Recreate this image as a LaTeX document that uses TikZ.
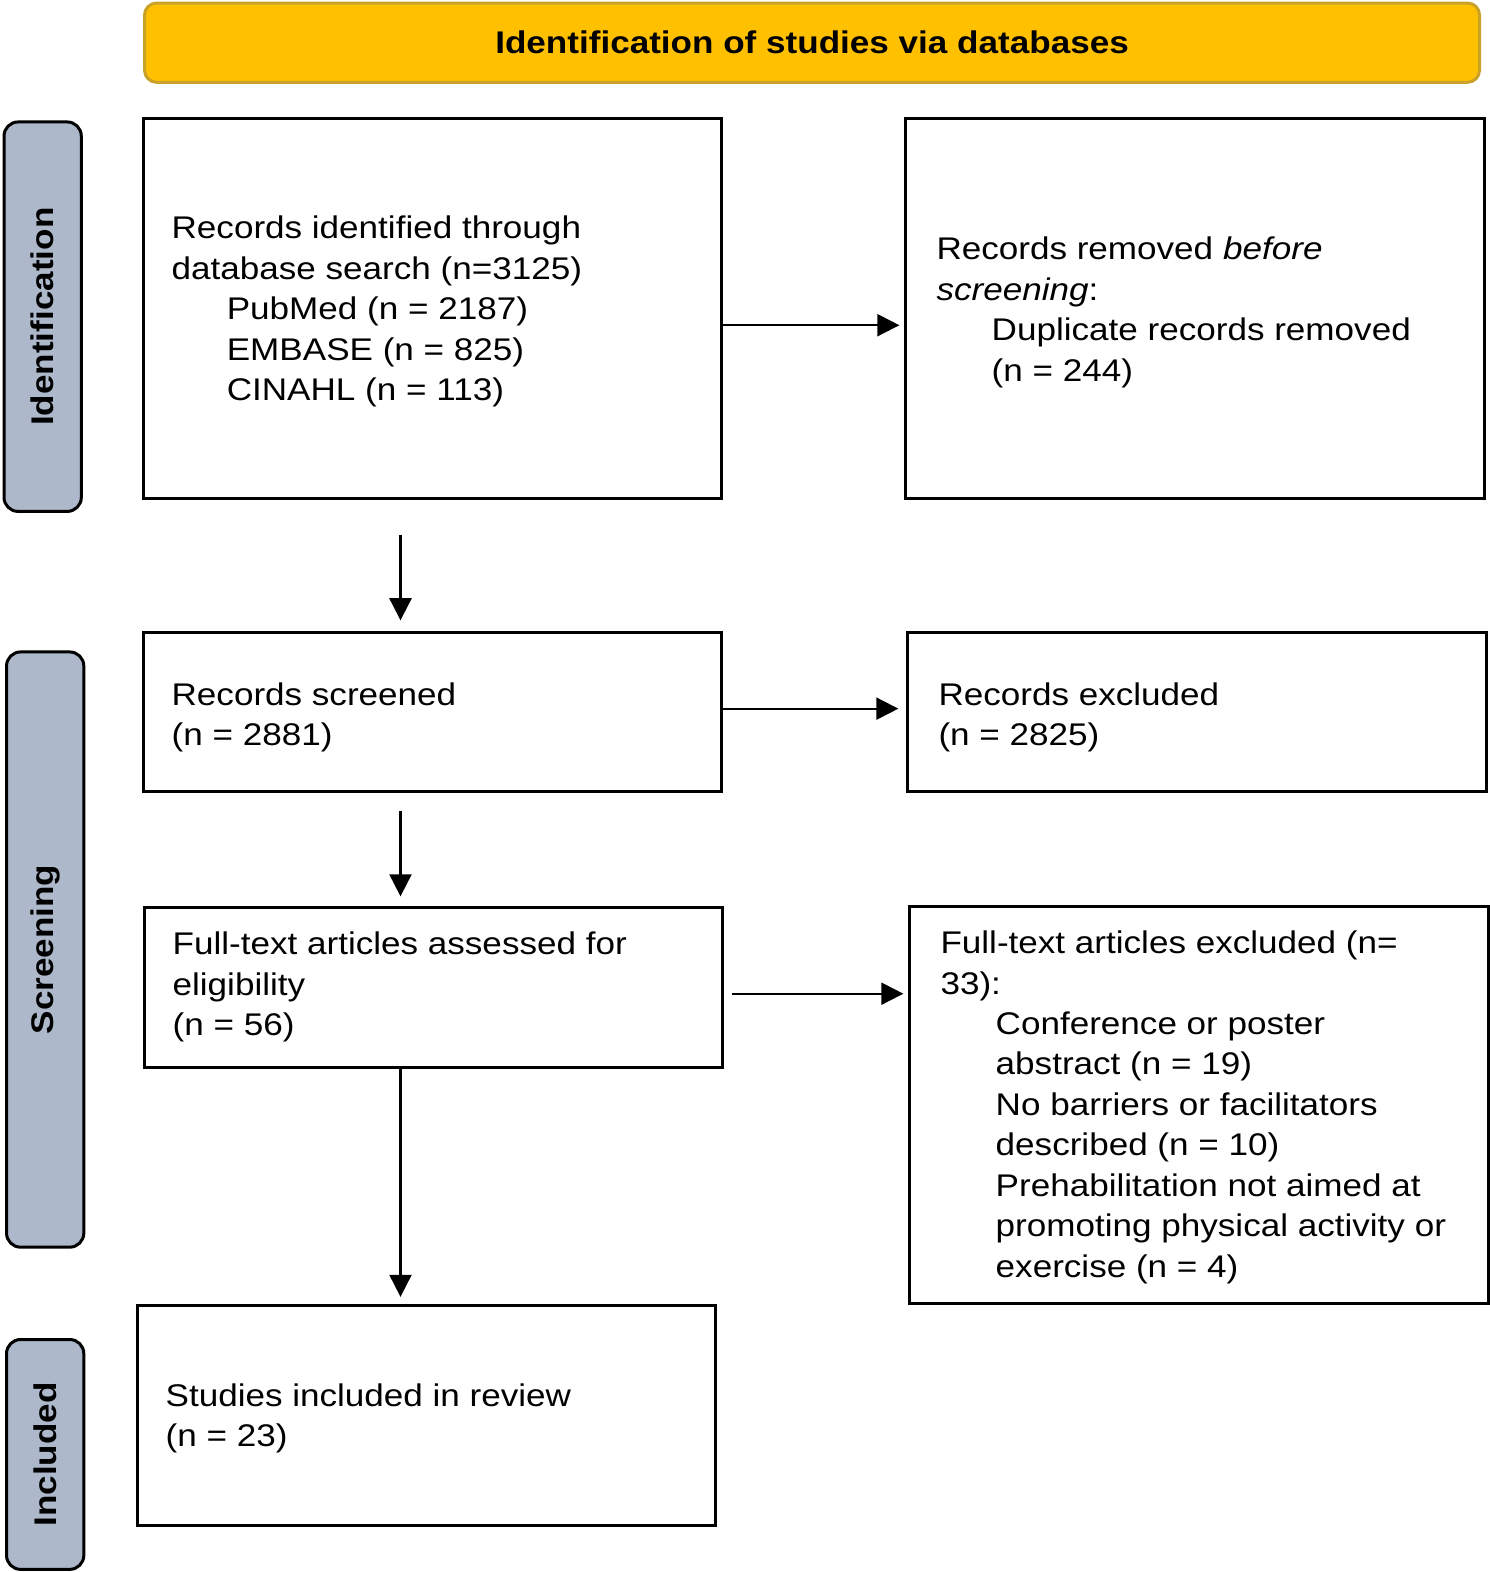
\documentclass[tikz,border=0pt]{standalone}
\usepackage{fontspec}
\setmainfont[FakeStretch=1.12]{Liberation Sans}
\usetikzlibrary{arrows.meta}
\definecolor{hdrfill}{HTML}{FFC000}
\definecolor{hdrline}{HTML}{C9A227}
\definecolor{sidefill}{HTML}{ADB9CA}
\begin{document}
\begin{tikzpicture}[x=1pt,y=-1pt,
  box/.style={draw=black, line width=3pt, inner sep=0pt, outer sep=0pt, minimum width=576pt},
  txt/.style={anchor=north west, inner sep=0pt, outer sep=0pt, align=left, font=\fontsize{31.2}{40.3}\selectfont},
  side/.style={draw=black, line width=3pt, fill=sidefill, rounded corners=14pt, inner sep=0pt, minimum width=77pt},
  sidelbl/.style={rotate=90, font=\fontsize{31.2}{40.3}\selectfont\bfseries, inner sep=0pt},
  arr/.style={line width=2pt, -{Triangle[length=22pt,width=22pt]}}]
\useasboundingbox (0,0) rectangle (1489,1572);
\begin{scope}[transform canvas={scale=1.00375}]
% header
\node[draw=hdrline, line width=3pt, fill=hdrfill, rounded corners=12pt, minimum width=1330pt, minimum height=79pt, inner sep=0pt] (hdr) at (809,42.5) {};
\node[font=\fontsize{31.2}{40.3}\selectfont\bfseries, inner sep=0pt] (hdrtxt) at (hdr.center) {Identification of studies via databases};

% side bars
\node[side, minimum height=388pt] (sid) at (42.5,315.5) {};
\node[sidelbl] (sidt) at (sid.center) {Identification};
\node[side, minimum height=593pt] (sscr) at (45,946) {};
\node[sidelbl] (sscrt) at (sscr.center) {Screening};
\node[side, minimum height=229pt] (sinc) at (45,1449) {};
\node[sidelbl] (sinct) at (sinc.center) {Included};

% boxes
\node[box, minimum height=378pt] (A) at (430.5,307.5) {};
\node[box, minimum height=378pt] (B) at (1190.5,307.5) {};
\node[box, minimum height=158pt] (C) at (430.5,709.5) {};
\node[box, minimum height=158pt] (D) at (1192.5,709.5) {};
\node[box, minimum height=159pt] (E) at (431.5,984) {};
\node[box, minimum height=395pt] (F) at (1194.5,1101) {};
\node[box, minimum height=219pt] (G) at (424.5,1410) {};

% texts
\node[txt] (tA) at (171,209.8) {\strut Records identified through\\database search (n=3125)\\\hspace*{55pt}PubMed (n = 2187)\\\hspace*{55pt}EMBASE (n = 825)\\\hspace*{55pt}CINAHL (n = 113)};
\node[txt] (tB) at (933,230.8) {\strut Records removed \textit{before}\\\textit{screening}:\\\hspace*{55pt}Duplicate records removed\\\hspace*{55pt}(n = 244)};
\node[txt] (tC) at (171,674.3) {\strut Records screened\\(n = 2881)};
\node[txt] (tD) at (935,674.3) {\strut Records excluded\\(n = 2825)};
\node[txt] (tE) at (172,922.8) {\strut Full-text articles assessed for\\eligibility\\(n = 56)};
\node[txt] (tF) at (937,921.8) {\strut Full-text articles excluded (n=\\33):\\\hspace*{55pt}Conference or poster\\\hspace*{55pt}abstract (n = 19)\\\hspace*{55pt}No barriers or facilitators\\\hspace*{55pt}described (n = 10)\\\hspace*{55pt}Prehabilitation not aimed at\\\hspace*{55pt}promoting physical activity or\\\hspace*{55pt}exercise (n = 4)};
\node[txt] (tG) at (165,1372.8) {\strut Studies included in review\\(n = 23)};

% connectors
\coordinate (xd) at (399,0);
\coordinate (h1) at (0,324);
\coordinate (h2) at (0,706);
\coordinate (h3) at (0,990);
\draw[arr, shorten >=6.5pt] (A.east |- h1) -- (B.west |- h1);
\draw[arr, shorten <=36pt, shorten >=12.5pt] (A.south -| xd) -- (C.north -| xd);
\draw[arr, shorten >=9.5pt] (C.east |- h2) -- (D.west |- h2);
\draw[arr, shorten <=19.5pt, shorten >=11.5pt] (C.south -| xd) -- (E.north -| xd);
\draw[arr, shorten <=9.5pt, shorten >=6.5pt] (E.east |- h3) -- (F.west |- h3);
\draw[arr, shorten >=8.5pt] (E.south -| xd) -- (G.north -| xd);
\end{scope}
\end{tikzpicture}
\end{document}
